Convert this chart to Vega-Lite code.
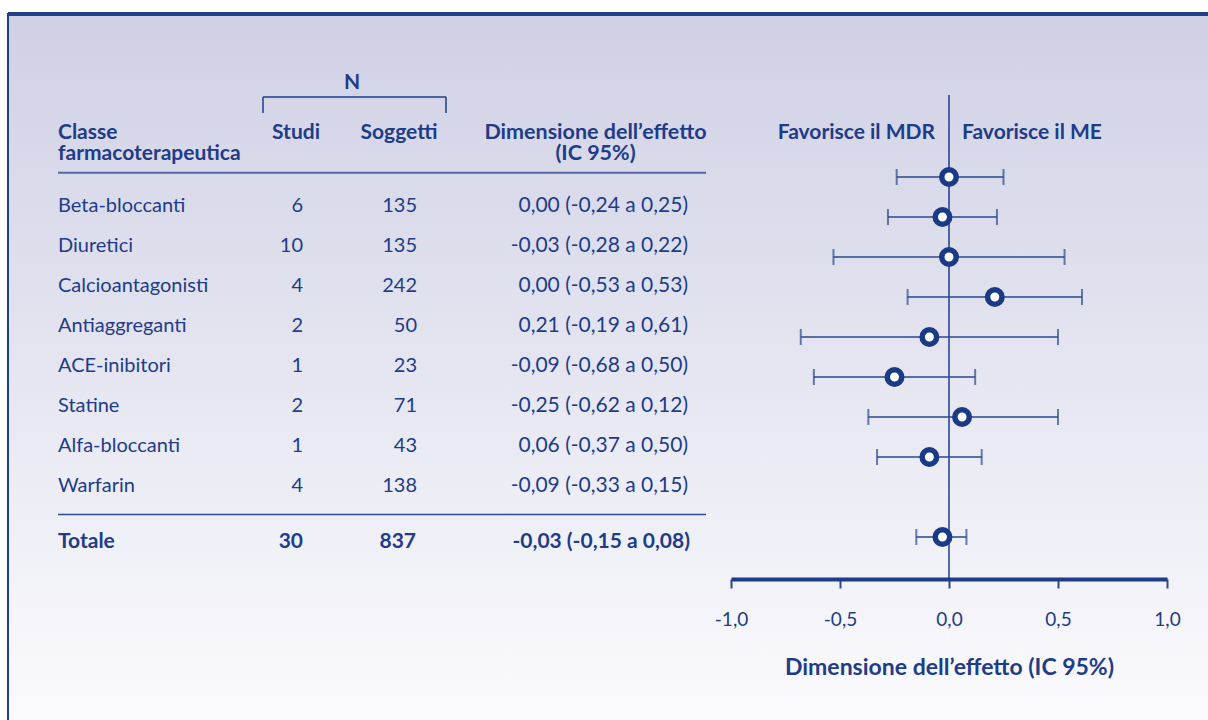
{
  "$schema": "https://vega.github.io/schema/vega-lite/v6.json",
  "width": 1202,
  "height": 708,
  "padding": {"left": 8, "top": 14, "right": 0, "bottom": 0},
  "autosize": {"type": "none"},
  "background": "#ffffff",
  "config": {
    "view": {
      "fill": {"gradient": "linear", "x1": 0, "y1": 0, "x2": 0, "y2": 1, "stops": [{"offset": 0, "color": "#cfd0e4"}, {"offset": 1, "color": "#fbfbfe"}]},
      "stroke": "#1e3f8a",
      "strokeWidth": 2
    },
    "font": "Lato",
    "text": {"font": "Lato"}
  },
  "datasets": {
    "rows": [
      {"classe": "Beta-bloccanti", "studi": 6, "soggetti": 135, "es": 0.0, "lo": -0.24, "hi": 0.25, "ic": "0,00 (-0,24 a 0,25)", "row": 1},
      {"classe": "Diuretici", "studi": 10, "soggetti": 135, "es": -0.03, "lo": -0.28, "hi": 0.22, "ic": "-0,03 (-0,28 a 0,22)", "row": 2},
      {"classe": "Calcioantagonisti", "studi": 4, "soggetti": 242, "es": 0.0, "lo": -0.53, "hi": 0.53, "ic": "0,00 (-0,53 a 0,53)", "row": 3},
      {"classe": "Antiaggreganti", "studi": 2, "soggetti": 50, "es": 0.21, "lo": -0.19, "hi": 0.61, "ic": "0,21 (-0,19 a 0,61)", "row": 4},
      {"classe": "ACE-inibitori", "studi": 1, "soggetti": 23, "es": -0.09, "lo": -0.68, "hi": 0.5, "ic": "-0,09 (-0,68 a 0,50)", "row": 5},
      {"classe": "Statine", "studi": 2, "soggetti": 71, "es": -0.25, "lo": -0.62, "hi": 0.12, "ic": "-0,25 (-0,62 a 0,12)", "row": 6},
      {"classe": "Alfa-bloccanti", "studi": 1, "soggetti": 43, "es": 0.06, "lo": -0.37, "hi": 0.5, "ic": "0,06 (-0,37 a 0,50)", "row": 7},
      {"classe": "Warfarin", "studi": 4, "soggetti": 138, "es": -0.09, "lo": -0.33, "hi": 0.15, "ic": "-0,09 (-0,33 a 0,15)", "row": 8},
      {"classe": "Totale", "studi": 30, "soggetti": 837, "es": -0.03, "lo": -0.15, "hi": 0.08, "ic": "-0,03 (-0,15 a 0,08)", "row": 10}
    ]
  },
  "data": {"name": "rows"},
  "layer": [
    {
      "layer": [
        {
          "transform": [{"filter": "datum.row <= 8"}],
          "mark": {"type": "text", "align": "left", "baseline": "alphabetic", "fontSize": 20, "color": "#1e3c88"},
          "encoding": {
            "x": {"datum": 58, "type": "quantitative", "scale": {"domain": [8, 1210], "nice": false, "zero": false}, "axis": null},
            "y": {"field": "row", "type": "quantitative", "scale": {"domain": [-3.95, 13.75], "reverse": true, "nice": false, "zero": false}, "axis": null},
            "text": {"field": "classe"}
          }
        },
        {
          "transform": [{"filter": "datum.row <= 8"}],
          "mark": {"type": "text", "align": "right", "baseline": "alphabetic", "fontSize": 20, "color": "#1e3c88"},
          "encoding": {
            "x": {"datum": 303, "type": "quantitative", "axis": null},
            "y": {"field": "row", "type": "quantitative", "axis": null},
            "text": {"field": "studi"}
          }
        },
        {
          "transform": [{"filter": "datum.row <= 8"}],
          "mark": {"type": "text", "align": "right", "baseline": "alphabetic", "fontSize": 20, "color": "#1e3c88"},
          "encoding": {
            "x": {"datum": 417, "type": "quantitative", "axis": null},
            "y": {"field": "row", "type": "quantitative", "axis": null},
            "text": {"field": "soggetti"}
          }
        },
        {
          "transform": [{"filter": "datum.row <= 8"}],
          "mark": {"type": "text", "align": "right", "baseline": "alphabetic", "fontSize": 21, "color": "#1e3c88"},
          "encoding": {
            "x": {"datum": 688, "type": "quantitative", "axis": null},
            "y": {"field": "row", "type": "quantitative", "axis": null},
            "text": {"field": "ic"}
          }
        },
        {
          "transform": [{"filter": "datum.row > 8"}],
          "mark": {"type": "text", "align": "left", "baseline": "alphabetic", "fontSize": 21, "fontWeight": "bold", "color": "#1e3c88"},
          "encoding": {
            "x": {"datum": 58, "type": "quantitative", "axis": null},
            "y": {"datum": 9.4, "type": "quantitative", "axis": null},
            "text": {"field": "classe"}
          }
        },
        {
          "transform": [{"filter": "datum.row > 8"}],
          "mark": {"type": "text", "align": "right", "baseline": "alphabetic", "fontSize": 21, "fontWeight": "bold", "color": "#1e3c88"},
          "encoding": {
            "x": {"datum": 303, "type": "quantitative", "axis": null},
            "y": {"datum": 9.4, "type": "quantitative", "axis": null},
            "text": {"field": "studi"}
          }
        },
        {
          "transform": [{"filter": "datum.row > 8"}],
          "mark": {"type": "text", "align": "right", "baseline": "alphabetic", "fontSize": 21, "fontWeight": "bold", "color": "#1e3c88"},
          "encoding": {
            "x": {"datum": 416, "type": "quantitative", "axis": null},
            "y": {"datum": 9.4, "type": "quantitative", "axis": null},
            "text": {"field": "soggetti"}
          }
        },
        {
          "transform": [{"filter": "datum.row > 8"}],
          "mark": {"type": "text", "align": "right", "baseline": "alphabetic", "fontSize": 21, "fontWeight": "bold", "color": "#1e3c88"},
          "encoding": {
            "x": {"datum": 690, "type": "quantitative", "axis": null},
            "y": {"datum": 9.4, "type": "quantitative", "axis": null},
            "text": {"field": "ic"}
          }
        },
        {
          "data": {"values": [{}]},
          "mark": {"type": "text", "align": "center", "baseline": "alphabetic", "fontSize": 21, "fontWeight": "bold", "color": "#1e3c88"},
          "encoding": {
            "x": {"datum": 352, "type": "quantitative", "axis": null},
            "y": {"datum": -2.075, "type": "quantitative", "axis": null},
            "text": {"value": "N"}
          }
        },
        {
          "data": {"values": [{}]},
          "mark": {"type": "text", "align": "left", "baseline": "alphabetic", "fontSize": 21, "fontWeight": "bold", "color": "#1e3c88"},
          "encoding": {
            "x": {"datum": 58, "type": "quantitative", "axis": null},
            "y": {"datum": -0.825, "type": "quantitative", "axis": null},
            "text": {"value": "Classe"}
          }
        },
        {
          "data": {"values": [{}]},
          "mark": {"type": "text", "align": "left", "baseline": "alphabetic", "fontSize": 21, "fontWeight": "bold", "color": "#1e3c88"},
          "encoding": {
            "x": {"datum": 58, "type": "quantitative", "axis": null},
            "y": {"datum": -0.3, "type": "quantitative", "axis": null},
            "text": {"value": "farmacoterapeutica"}
          }
        },
        {
          "data": {"values": [{}]},
          "mark": {"type": "text", "align": "center", "baseline": "alphabetic", "fontSize": 21, "fontWeight": "bold", "color": "#1e3c88"},
          "encoding": {
            "x": {"datum": 296, "type": "quantitative", "axis": null},
            "y": {"datum": -0.825, "type": "quantitative", "axis": null},
            "text": {"value": "Studi"}
          }
        },
        {
          "data": {"values": [{}]},
          "mark": {"type": "text", "align": "center", "baseline": "alphabetic", "fontSize": 21, "fontWeight": "bold", "color": "#1e3c88"},
          "encoding": {
            "x": {"datum": 399, "type": "quantitative", "axis": null},
            "y": {"datum": -0.825, "type": "quantitative", "axis": null},
            "text": {"value": "Soggetti"}
          }
        },
        {
          "data": {"values": [{}]},
          "mark": {"type": "text", "align": "center", "baseline": "alphabetic", "fontSize": 21.5, "fontWeight": "bold", "color": "#1e3c88"},
          "encoding": {
            "x": {"datum": 595.5, "type": "quantitative", "axis": null},
            "y": {"datum": -0.825, "type": "quantitative", "axis": null},
            "text": {"value": "Dimensione dell’effetto"}
          }
        },
        {
          "data": {"values": [{}]},
          "mark": {"type": "text", "align": "center", "baseline": "alphabetic", "fontSize": 21.5, "fontWeight": "bold", "color": "#1e3c88"},
          "encoding": {
            "x": {"datum": 595.5, "type": "quantitative", "axis": null},
            "y": {"datum": -0.3, "type": "quantitative", "axis": null},
            "text": {"value": "(IC 95%)"}
          }
        },
        {
          "data": {"values": [{}]},
          "mark": {"type": "rule", "color": "#1e3c88", "strokeWidth": 1.5},
          "encoding": {
            "x": {"datum": 263, "type": "quantitative", "axis": null},
            "x2": {"datum": 446},
            "y": {"datum": -1.875, "type": "quantitative", "axis": null}
          }
        },
        {
          "data": {"values": [{}]},
          "mark": {"type": "rule", "color": "#1e3c88", "strokeWidth": 1.5},
          "encoding": {
            "x": {"datum": 263, "type": "quantitative", "axis": null},
            "y": {"datum": -1.875, "type": "quantitative", "axis": null},
            "y2": {"datum": -1.475}
          }
        },
        {
          "data": {"values": [{}]},
          "mark": {"type": "rule", "color": "#1e3c88", "strokeWidth": 1.5},
          "encoding": {
            "x": {"datum": 446, "type": "quantitative", "axis": null},
            "y": {"datum": -1.875, "type": "quantitative", "axis": null},
            "y2": {"datum": -1.475}
          }
        },
        {
          "data": {"values": [{}]},
          "mark": {"type": "rule", "color": "#5369a6", "strokeWidth": 2},
          "encoding": {
            "x": {"datum": 58, "type": "quantitative", "axis": null},
            "x2": {"datum": 706},
            "y": {"datum": 0.02, "type": "quantitative", "axis": null}
          }
        },
        {
          "data": {"values": [{}]},
          "mark": {"type": "rule", "color": "#2d4990", "strokeWidth": 1.5},
          "encoding": {
            "x": {"datum": 58, "type": "quantitative", "axis": null},
            "x2": {"datum": 706},
            "y": {"datum": 8.56, "type": "quantitative", "axis": null}
          }
        }
      ]
    },
    {
      "layer": [
        {
          "data": {"values": [{}]},
          "mark": {"type": "rule", "color": "#1e3f8a", "strokeWidth": 4},
          "encoding": {
            "y": {"datum": -3.075, "type": "quantitative", "scale": {"domain": [-3.075, 14.625], "reverse": true, "nice": false, "zero": false}, "axis": null}
          }
        },
        {
          "data": {"values": [{}]},
          "mark": {"type": "rule", "color": "#1e3c88", "strokeWidth": 1.5},
          "encoding": {
            "x": {"datum": 0, "type": "quantitative", "scale": {"domain": [-1, 1], "range": [723, 1159], "nice": false, "zero": false}},
            "y": {"datum": -1.05, "type": "quantitative", "axis": null},
            "y2": {"datum": 11.05}
          }
        },
        {
          "mark": {"type": "rule", "color": "#2a4790", "strokeWidth": 1.5},
          "encoding": {
            "x": {
              "field": "lo", "type": "quantitative",
              "axis": {
                "orient": "bottom",
                "offset": -143,
                "values": [-1, -0.5, 0, 0.5, 1],
                "labelExpr": "replace(replace(format(datum.value, '.1f'), '.', ','), '\u2212', '-')",
                "grid": false,
                "domainColor": "#1e3c88",
                "domainWidth": 4,
                "tickColor": "#2a4790",
                "tickWidth": 2,
                "tickSize": 9,
                "labelFont": "Lato",
                "labelFontSize": 19,
                "labelColor": "#1e3c88",
                "labelPadding": 37,
                "labelBaseline": "alphabetic",
                "labelFlush": false,
                "labelOverlap": false,
                "title": "Dimensione dell’effetto (IC 95%)",
                "titleFont": "Lato",
                "titleFontSize": 23,
                "titleFontWeight": "bold",
                "titleColor": "#1e3c88",
                "titleY": 95,
                "titleBaseline": "alphabetic"
              }
            },
            "x2": {"field": "hi"},
            "y": {"field": "row", "type": "quantitative", "axis": null}
          }
        },
        {
          "mark": {"type": "tick", "orient": "vertical", "color": "#2a4790", "size": 16, "thickness": 2},
          "encoding": {
            "x": {"field": "lo", "type": "quantitative"},
            "y": {"field": "row", "type": "quantitative", "axis": null}
          }
        },
        {
          "mark": {"type": "tick", "orient": "vertical", "color": "#2a4790", "size": 16, "thickness": 2},
          "encoding": {
            "x": {"field": "hi", "type": "quantitative"},
            "y": {"field": "row", "type": "quantitative", "axis": null}
          }
        },
        {
          "mark": {"type": "circle", "size": 210, "fill": "#ffffff", "stroke": "#1a3a86", "strokeWidth": 5.5, "opacity": 1, "fillOpacity": 1},
          "encoding": {
            "x": {"field": "es", "type": "quantitative"},
            "y": {"field": "row", "type": "quantitative", "axis": null}
          }
        },
        {
          "data": {"values": [{}]},
          "mark": {"type": "text", "align": "right", "baseline": "alphabetic", "fontSize": 21, "fontWeight": "bold", "color": "#1e3c88", "dx": -14},
          "encoding": {
            "x": {"datum": 0, "type": "quantitative"},
            "y": {"datum": 0.05, "type": "quantitative", "axis": null},
            "text": {"value": "Favorisce il MDR"}
          }
        },
        {
          "data": {"values": [{}]},
          "mark": {"type": "text", "align": "left", "baseline": "alphabetic", "fontSize": 21, "fontWeight": "bold", "color": "#1e3c88", "dx": 13},
          "encoding": {
            "x": {"datum": 0, "type": "quantitative"},
            "y": {"datum": 0.05, "type": "quantitative", "axis": null},
            "text": {"value": "Favorisce il ME"}
          }
        }
      ]
    }
  ],
  "resolve": {"scale": {"x": "independent", "y": "independent"}}
}
